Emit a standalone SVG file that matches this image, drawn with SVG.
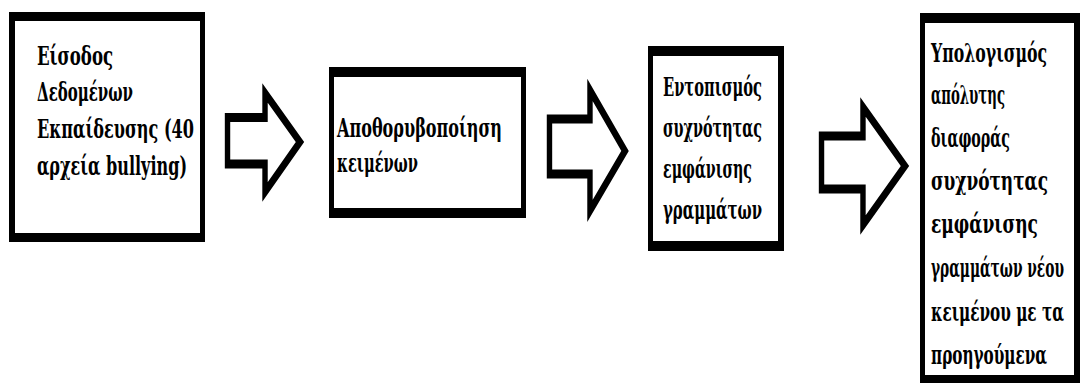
<svg xmlns="http://www.w3.org/2000/svg" width="1080" height="383" viewBox="0 0 1080 383">
<style>
.frame{fill:#000}
.inner{fill:#fff}
.t{font-family:"DejaVu Serif","Liberation Serif",serif;font-weight:bold;fill:#000;font-size:26px}
.arrow{fill:#fff;stroke:#000;stroke-width:9;stroke-linejoin:miter;stroke-miterlimit:10}
</style>
<rect width="1080" height="383" fill="#fff"/>
<g id="node1">
<rect class="frame" x="9" y="12" width="196" height="230"/>
<rect class="inner" x="15" y="21" width="185" height="212"/>
<g transform="scale(0.62,1)">
<text class="t" x="59.7" y="65" textLength="122.6" lengthAdjust="spacingAndGlyphs">Είσοδος</text>
<text class="t" x="59.7" y="101" textLength="154.8" lengthAdjust="spacingAndGlyphs">Δεδομένων</text>
<text class="t" x="59.7" y="138" textLength="253.2" lengthAdjust="spacingAndGlyphs">Εκπαίδευσης (40</text>
<text class="t" x="59.7" y="175" textLength="241.9" lengthAdjust="spacingAndGlyphs">αρχεία bullying)</text>
</g>
</g>
<g id="node2">
<rect class="frame" x="329" y="67" width="197" height="151"/>
<rect class="inner" x="334" y="77" width="187" height="131"/>
<g transform="scale(0.62,1)">
<text class="t" x="543.5" y="137" textLength="266.1" lengthAdjust="spacingAndGlyphs">Αποθορυβοποίηση</text>
<text class="t" x="543.5" y="172" textLength="130.6" lengthAdjust="spacingAndGlyphs">κειμένων</text>
</g>
</g>
<g id="node3">
<rect class="frame" x="648" y="46" width="136" height="205"/>
<rect class="inner" x="653" y="56" width="125" height="185"/>
<g transform="scale(0.62,1)">
<text class="t" x="1069.4" y="96" textLength="159.7" lengthAdjust="spacingAndGlyphs">Εντοπισμός</text>
<text class="t" x="1069.4" y="137" textLength="159.7" lengthAdjust="spacingAndGlyphs">συχνότητας</text>
<text class="t" x="1069.4" y="178" textLength="143.5" lengthAdjust="spacingAndGlyphs">εμφάνισης</text>
<text class="t" x="1069.4" y="219" textLength="159.7" lengthAdjust="spacingAndGlyphs">γραμμάτων</text>
</g>
</g>
<g id="node4">
<rect class="frame" x="920" y="13" width="160" height="372"/>
<rect class="inner" x="925" y="23" width="149" height="352"/>
<g transform="scale(0.62,1)">
<text class="t" x="1501.6" y="62" textLength="187.1" lengthAdjust="spacingAndGlyphs">Υπολογισμός</text>
<text class="t" x="1501.6" y="104" textLength="119.4" lengthAdjust="spacingAndGlyphs">απόλυτης</text>
<text class="t" x="1501.6" y="147" textLength="127.4" lengthAdjust="spacingAndGlyphs">διαφοράς</text>
<text class="t" x="1501.6" y="190" textLength="188.7" lengthAdjust="spacingAndGlyphs">συχνότητας</text>
<text class="t" x="1501.6" y="233" textLength="172.6" lengthAdjust="spacingAndGlyphs">εμφάνισης</text>
<text class="t" x="1501.6" y="321" textLength="214.5" lengthAdjust="spacingAndGlyphs">κειμένου με τα</text>
<text class="t" x="1501.6" y="364" textLength="187.1" lengthAdjust="spacingAndGlyphs">προηγούμενα</text>
</g>
<g transform="scale(0.55,1)">
<text class="t" x="1692.7" y="277" textLength="241.8" lengthAdjust="spacingAndGlyphs">γραμμάτων νέου</text>
</g>
</g>
<g id="connectors">
<polygon class="arrow" transform="scale(0.6,1)" points="379.2,117.5 441.7,117.5 441.7,93 500,142 441.7,192 441.7,164 379.2,164"/>
<polygon class="arrow" transform="scale(0.6,1)" points="915.8,119 983.3,119 983.3,90 1041.7,151 983.3,211 983.3,174 915.8,174"/>
<polygon class="arrow" transform="scale(0.6,1)" points="1369.2,136 1438.3,136 1438.3,107 1508.3,166 1438.3,225 1438.3,189 1369.2,189"/>
</g>
</svg>
